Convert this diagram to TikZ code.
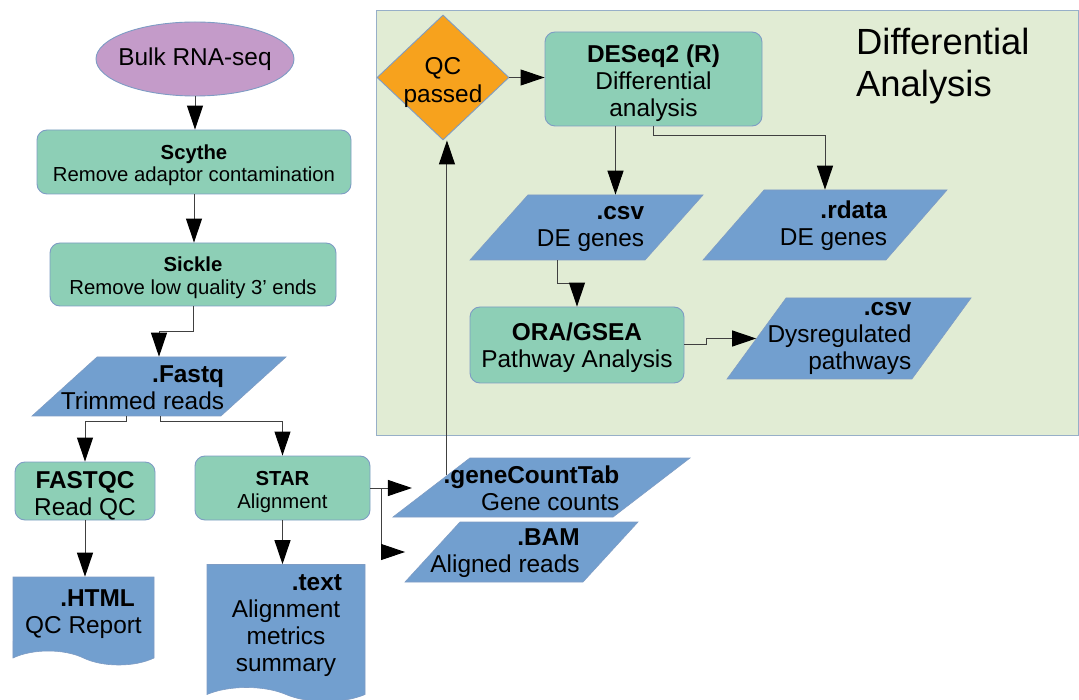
\documentclass[tikz,border=0pt]{standalone}
\usepackage{fontspec}
\setmainfont{Liberation Sans}
\usepackage{xcolor}
\usepackage{tikz}
\usetikzlibrary{positioning, arrows.meta, shapes.geometric, shapes.symbols, calc}

\definecolor{procfill}{HTML}{8DCFB6}
\definecolor{datafill}{HTML}{729FCF}
\definecolor{startfill}{HTML}{C49BC9}
\definecolor{qcfill}{HTML}{F7A21D}
\definecolor{panelfill}{HTML}{E1ECD4}
\definecolor{edgeblue}{HTML}{7E9CC4}
\definecolor{paneledge}{HTML}{97AFC8}
\definecolor{linkgray}{HTML}{404040}

% extra room above the first line of a box
\newcommand{\toppad}[1][1.05em]{\rule{0pt}{#1}}

\begin{document}
\begin{tikzpicture}[
  x=1pt, y=-1pt,
  font=\fontsize{24.4}{27}\selectfont,
  titletext/.style={font=\fontsize{36.4}{42}\selectfont, align=left, inner sep=0pt},
  panelbox/.style={
    rectangle,
    draw=paneledge,
    fill=panelfill,
    line width=0.9pt
  },
  start/.style={
    ellipse,
    draw=edgeblue,
    fill=startfill,
    line width=0.9pt,
    minimum width=198pt,
    minimum height=74pt
  },
  proc/.style={
    rectangle,
    draw=edgeblue,
    fill=procfill,
    line width=0.9pt,
    align=center,
    rounded corners=10pt,
    inner sep=0pt
  },
  smallproc/.style={proc, font=\fontsize{20.3}{22.8}\selectfont},
  decision/.style={
    diamond,
    draw=edgeblue,
    fill=qcfill,
    line width=0.9pt,
    align=center,
    inner sep=0pt,
    font=\fontsize{24.4}{28}\selectfont
  },
  dataio/.style 2 args={
    trapezium,
    trapezium stretches body,
    trapezium left angle=#1,
    trapezium right angle=#2,
    draw=edgeblue,
    fill=datafill,
    line width=0.6pt,
    inner sep=0pt,
    text depth=0pt
  },
  datatext/.style={align=right, inner sep=0pt},
  docpage/.style={
    tape,
    tape bend top=none,
    tape bend bottom=out and in,
    tape bend height=14pt,
    draw=edgeblue,
    fill=datafill,
    line width=0.6pt,
    inner sep=0pt
  },
  arrow/.style={-{Triangle[length=24pt, width=16pt, color=black]}, line width=1pt, draw=linkgray}
]
  \useasboundingbox (0,0) rectangle (1079,700);

  % Differential analysis panel
  \node (panel) [panelbox, minimum width=702pt, minimum height=425pt] at (727,222.5) {};
  \node (title) [titletext, anchor=west] at (856,66) {Differential\\Analysis};

  % Nodes
  \node (bulk)   [start] at (195,59) {\makebox[0pt]{Bulk RNA-seq}};
  \node (scythe) [smallproc, minimum width=314pt, minimum height=64pt] at (194,162)
    {\toppad\textbf{Scythe}\\Remove adaptor contamination};
  \node (sickle) [smallproc, minimum width=286pt, minimum height=63pt] at (193,274.5)
    {\toppad\textbf{Sickle}\\Remove low quality 3’ ends};

  \node (fastq) [dataio={42.2}{137.8}, minimum width=254pt, text height=59pt,
    label={[datatext, xshift=-16.5pt, yshift=-1.5pt]center:{\textbf{.Fastq}\\Trimmed reads}}] at (159,386.5) {};

  \node (fastqc) [proc, minimum width=140pt, minimum height=58pt] at (85,491)
    {\toppad\textbf{FASTQC}\\Read QC};
  \node (star)   [smallproc, minimum width=175pt, minimum height=64pt] at (282.5,488)
    {\toppad[1.1em]\textbf{STAR}\\Alignment};

  \node (html)    [docpage, minimum width=141pt, minimum height=88pt, align=right] at (83.5,614)
    {\textbf{.HTML}\hspace*{7pt}\\QC Report};
  \node (textdoc) [docpage, minimum width=158pt, minimum height=137pt, align=center, text width=112pt] at (286,626)
    {\hspace*{\fill}\textbf{.text}\\Alignment\\metrics\\summary};

  \node (gct) [dataio={37.5}{142.5}, minimum width=297pt, text height=59pt,
    label={[datatext, xshift=-10pt, yshift=-1pt]center:{\textbf{.geneCountTab}\\Gene counts}}] at (541.5,487.5) {};
  \node (bam) [dataio={47.5}{132.5}, minimum width=233pt, text height=60pt,
    label={[datatext, xshift=-16.5pt, yshift=-1pt]center:{\textbf{.BAM}\\Aligned reads}}] at (521.5,552) {};

  \node (qc)    [decision, minimum width=132pt, minimum height=125pt] at (443,77.5)
    {\toppad[1.15em]\makebox[0pt]{QC}\\\makebox[0pt]{passed}};
  \node (deseq) [proc, minimum width=217pt, minimum height=94pt] at (653.5,79)
    {\toppad\textbf{DESeq2 (R)}\\Differential\\analysis};

  \node (csv)   [dataio={48.3}{131.7}, minimum width=233pt, text height=65pt,
    label={[datatext, xshift=4pt, yshift=-1.5pt]center:{\textbf{.csv}\\DE genes}}] at (586.5,227.5) {};
  \node (rdata) [dataio={48.9}{131.1}, minimum width=244pt, text height=70pt,
    label={[datatext, xshift=8.5pt, yshift=-1pt]center:{\textbf{.rdata}\\DE genes}}] at (825,225) {};

  \node (ora) [proc, minimum width=214pt, minimum height=76pt] at (577,345)
    {\toppad[0.95em]\textbf{ORA/GSEA}\\Pathway Analysis};
  \node (dys) [dataio={53.9}{126.1}, minimum width=244pt, text height=81pt,
    label={[datatext, xshift=-9.5pt]center:{\textbf{.csv}\\Dysregulated\\pathways}}] at (849,338.5) {};

  % Arrows
  \draw [arrow] (bulk.south) -- (bulk.south |- scythe.north);
  \draw [arrow] (scythe.south) -- (scythe.south |- sickle.north);
  \draw [arrow] (sickle.south) -- ++(0,25) -| (fastq.north);
  \draw [arrow] (fastq.bottom side) -- ++(0,5) -| (fastqc.north);
  \draw [arrow] ([xshift=1pt]fastq.south) -- ++(0,5) -| (star.north);
  \draw [arrow] (fastqc.south) -- (fastqc.south |- html.north);
  \draw [arrow] (star.south) -- (star.south |- textdoc.north);
  \draw [arrow] (star.east) -- ($(star.east -| gct.left side)+(-19,0)$);
  \draw [arrow] ([xshift=11pt]star.east) |- ($(bam.left side)+(-27,0)$);

  \coordinate (gup) at ($(gct.left side)+(16,-12.5)$);
  \draw [arrow] (gup) -- (gup |- qc.south);
  \draw [arrow] (qc.east) -- (qc.east -| deseq.west);
  \draw [arrow] ($(deseq.south)+(-38,0)$) -- ($(deseq.south |- csv.north)+(-38,0)$);
  \draw [arrow] (deseq.south) -- ++(0,9) -| (rdata.north);
  \draw [arrow] (csv.bottom side) -- ++(0,23) -| (ora.north);
  \draw [arrow] (ora.east) -- ++(22,0) |- (dys.left side);

\end{tikzpicture}
\end{document}
